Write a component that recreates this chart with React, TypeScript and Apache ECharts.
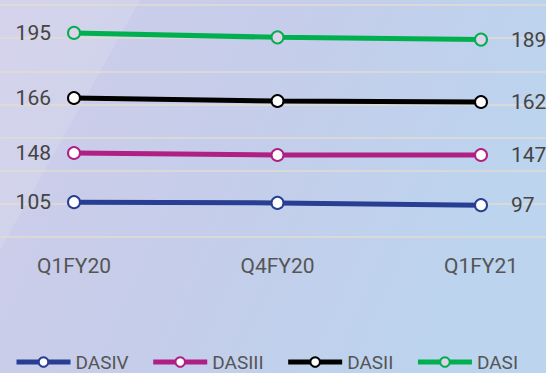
import React, { useEffect, useRef } from "react";
import * as echarts from "echarts";

const categories = ["Q1FY20", "Q4FY20", "Q1FY21"];
const seriesNames = ["DASIV", "DASIII", "DASII", "DASI"];
const dasIV = [105, 103, 97];
const dasIII = [148, 147, 147];
const dasII = [166, 163, 162];
const dasI = [195, 191, 189];
const seriesValues = [dasIV, dasIII, dasII, dasI];
const seriesColors = ["#283e93", "#b01f83", "#000000", "#00b04f"];
const symbolFills = ["#ffffff", "#ffffff", "#ffffff", "#e0d2ea"];
// per-series value ranges of the stacked bands
const axisMins = [12, 106, 27, 12];
const axisMaxs = [631, 222, 259, 220];

export default function App() {
  const ref = useRef<HTMLDivElement>(null);
  useEffect(() => {
    if (!ref.current) return;
    const chart = echarts.init(ref.current, null, { renderer: "svg" });
    const last = categories.length - 1;
    const series = seriesNames.map((name, si) => ({
      name,
      type: "line",
      xAxisIndex: 1,
      yAxisIndex: si + 1,
      symbol: "circle",
      symbolSize: 12,
      lineStyle: { width: 5, color: seriesColors[si] },
      itemStyle: {
        color: symbolFills[si],
        borderColor: seriesColors[si],
        borderWidth: 2,
      },
      z: 3 + si,
      data: seriesValues[si].map((v, i) => ({
        value: v,
        label:
          i === 0
            ? { show: true, position: "left", distance: 16 }
            : i === last
            ? { show: true, position: "right", distance: 23 }
            : { show: false },
      })),
      label: {
        fontSize: 21,
        color: "#444444",
        fontFamily: "Roboto",
      },
    }));
    chart.setOption({
      animation: false,
      backgroundColor: {
        type: "linear",
        x: 0,
        y: 0,
        x2: 1,
        y2: 0.3,
        colorStops: [
          { offset: 0, color: "#cfcde9" },
          { offset: 0.5, color: "#c5cdea" },
          { offset: 1, color: "#bcd4ee" },
        ],
      },
      textStyle: { fontFamily: "Roboto" },
      graphic: [
        {
          type: "polygon",
          silent: true,
          z: -10,
          shape: { points: [[0, 0], [140, 0], [0, 250]] },
          style: { fill: "rgba(255,255,255,0.13)" },
        },
      ],
      grid: [
        { left: 0, right: 0, top: 5, bottom: 136 },
        { left: 74, right: 65, top: 5, bottom: 136 },
      ],
      xAxis: [
        { type: "value", gridIndex: 0, show: false, min: 0, max: 1 },
        {
          type: "category",
          gridIndex: 1,
          data: categories,
          boundaryGap: false,
          axisLine: { show: false },
          axisTick: { show: false },
          splitLine: { show: false },
          axisLabel: { fontSize: 21, color: "#555555", margin: 18 },
        },
      ],
      yAxis: [
        {
          type: "value",
          gridIndex: 0,
          min: 0,
          max: 7,
          interval: 1,
          axisLine: { show: false },
          axisTick: { show: false },
          axisLabel: { show: false },
          splitLine: { show: true, lineStyle: { color: "#e1dcd2", width: 1.5 } },
        },
        ...seriesNames.map((_, si) => ({
          type: "value",
          gridIndex: 1,
          show: false,
          min: axisMins[si],
          max: axisMaxs[si],
          splitLine: { show: false },
        })),
      ],
      legend: {
        data: seriesNames,
        left: 14,
        top: 352,
        padding: 0,
        itemWidth: 54,
        itemHeight: 12,
        itemGap: 22,
        lineStyle: { width: 5 },
        itemStyle: { borderWidth: 2 },
        textStyle: {
          fontSize: 19,
          fontFamily: "Roboto",
          color: "#555555",
          lineHeight: 20,
        },
      },
      series,
    });
    return () => chart.dispose();
  }, []);
  return (
    <div
      ref={ref}
      style={{ position: "absolute", left: 0, top: 0, width: 546, height: 373 }}
    />
  );
}
